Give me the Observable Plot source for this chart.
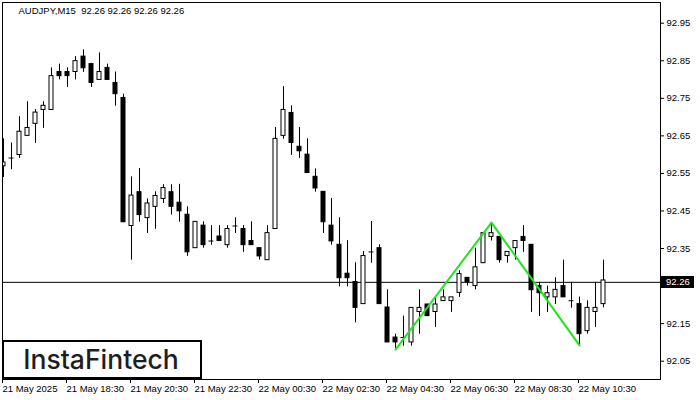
<!DOCTYPE html>
<html><head><meta charset="utf-8">
<script src="https://cdn.jsdelivr.net/npm/d3@7"></script>
<script src="https://cdn.jsdelivr.net/npm/@observablehq/plot@0.6"></script>
<style>body{margin:0;background:#fff} svg{display:block}</style>
</head><body><div id="chart"></div>
<script>
const opens  = [92.569,92.591,92.599,92.650,92.682,92.719,92.719,92.820,92.820,92.820,92.861,92.841,92.799,92.831,92.791,92.751,92.410,92.500,92.431,92.461,92.482,92.500,92.472,92.440,92.351,92.411,92.370,92.382,92.359,92.410,92.402,92.370,92.351,92.319,92.402,92.650,92.711,92.621,92.600,92.541,92.501,92.411,92.360,92.283,92.261,92.202,92.341,92.351,92.193,92.113,92.113,92.100,92.181,92.201,92.181,92.210,92.210,92.232,92.272,92.250,92.311,92.381,92.381,92.330,92.351,92.381,92.360,92.250,92.220,92.220,92.250,92.211,92.202,92.130,92.181,92.202];
const highs  = [92.642,92.631,92.701,92.741,92.720,92.741,92.831,92.841,92.831,92.861,92.879,92.843,92.871,92.841,92.820,92.761,92.541,92.563,92.482,92.501,92.520,92.520,92.521,92.461,92.421,92.421,92.411,92.411,92.411,92.432,92.411,92.421,92.351,92.411,92.672,92.781,92.730,92.672,92.642,92.562,92.501,92.483,92.432,92.371,92.312,92.342,92.422,92.360,92.240,92.122,92.170,92.192,92.240,92.201,92.220,92.240,92.220,92.291,92.272,92.351,92.393,92.418,92.381,92.341,92.370,92.411,92.360,92.260,92.250,92.272,92.319,92.260,92.221,92.211,92.260,92.319];
const lows   = [92.539,92.560,92.590,92.650,92.630,92.670,92.719,92.799,92.779,92.799,92.819,92.779,92.799,92.799,92.729,92.420,92.319,92.420,92.390,92.401,92.470,92.439,92.420,92.329,92.351,92.351,92.359,92.370,92.351,92.390,92.340,92.359,92.319,92.319,92.402,92.641,92.598,92.590,92.551,92.500,92.390,92.359,92.248,92.248,92.152,92.202,92.311,92.202,92.100,92.084,92.090,92.090,92.122,92.170,92.140,92.210,92.180,92.220,92.250,92.240,92.311,92.370,92.311,92.311,92.319,92.340,92.180,92.169,92.180,92.201,92.220,92.191,92.092,92.122,92.140,92.192];
const closes = [92.579,92.591,92.661,92.671,92.712,92.730,92.809,92.809,92.809,92.849,92.830,92.791,92.820,92.799,92.761,92.420,92.491,92.439,92.470,92.490,92.511,92.461,92.449,92.340,92.421,92.359,92.370,92.370,92.402,92.410,92.359,92.359,92.329,92.391,92.642,92.719,92.631,92.609,92.551,92.510,92.420,92.369,92.271,92.271,92.192,92.330,92.341,92.202,92.100,92.100,92.113,92.192,92.192,92.170,92.201,92.220,92.220,92.282,92.261,92.300,92.391,92.391,92.319,92.341,92.370,92.370,92.239,92.231,92.231,92.240,92.220,92.211,92.122,92.192,92.192,92.265];

const xTickIdx = [0, 8, 16, 24, 32, 40, 48, 56, 64, 72];
const xTickLabels = ["21 May 2025","21 May 18:30","21 May 20:30","21 May 22:30","22 May 00:30","22 May 02:30","22 May 04:30","22 May 06:30","22 May 08:30","22 May 10:30"];
const yTicks = [92.05, 92.15, 92.25, 92.35, 92.45, 92.55, 92.65, 92.75, 92.85, 92.95];
const hiddenYTick = 92.25;
const lastPrice = 92.26;
const patternIdx = [49, 61, 72];
const patternPrice = [92.081, 92.419, 92.092];
const titleText = "AUDJPY,M15  92.26 92.26 92.26 92.26";
const logoText = "InstaFintech";

const candles = opens.map((o, i) => ({i, o, h: highs[i], l: lows[i], c: closes[i]}));
const bodies = candles.filter(d => d.o !== d.c);
const dojis = candles.filter(d => d.o === d.c);
const pattern = patternIdx.map((i, k) => ({i, p: patternPrice[k]}));

const font = "'Liberation Sans', Arial, sans-serif";
const plot = Plot.plot({
  width: 700, height: 400,
  marginLeft: 2, marginRight: 40, marginTop: 2, marginBottom: 21,
  style: {fontFamily: font, fontSize: "9.5px", color: "#000", background: "#fff", overflow: "visible"},
  x: {domain: [-0.125, 82.125], axis: null},
  y: {domain: [92.0013, 93.0051], axis: null},
  marks: [
    Plot.ruleY([lastPrice], {stroke: "#000"}),
    Plot.ruleX(candles, {x: "i", y1: "l", y2: "h", stroke: "#000", clip: true}),
    Plot.rect(bodies, {x1: d => d.i - 0.25, x2: d => d.i + 0.25, y1: "o", y2: "c",
      fill: d => d.c > d.o ? "#fff" : "#000", stroke: "#000", clip: true}),
    Plot.ruleY(dojis, {y: "o", x1: d => d.i - 0.3125, x2: d => d.i + 0.3125, stroke: "#000", clip: true}),
    Plot.line(pattern, {x: "i", y: "p", stroke: "#1ee61e", strokeWidth: 2}),
    Plot.frame({stroke: "#000"}),
    Plot.axisX({anchor: "bottom", ticks: xTickIdx, tickFormat: d => xTickLabels[xTickIdx.indexOf(d)],
      tickSize: 4, tickPadding: 2, textAnchor: "start", dx: -1, fill: "#000", label: null}),
    Plot.axisY({anchor: "right", ticks: yTicks, tickFormat: d => d === hiddenYTick ? "" : d.toFixed(2),
      tickSize: 3, tickPadding: 3, fill: "#000", label: null}),
    Plot.text([titleText], {frameAnchor: "top-left", dx: 16, dy: 5, textAnchor: "start", fill: "#000", fontSize: 9.5})
  ]
});

const svg = d3.select(plot);
const yPos = plot.scale("y").apply(lastPrice);
const xRight = 700 - 40 + 1;
svg.append("rect").attr("x", xRight).attr("y", Math.round(yPos) - 6).attr("width", 33).attr("height", 12).attr("fill", "#000");
svg.append("text").attr("x", xRight + 5).attr("y", yPos + 3.5).attr("fill", "#fff").attr("text-anchor", "start")
  .attr("font-family", font).attr("font-size", 9.5).text(lastPrice.toFixed(2));

const logo = svg.append("g");
logo.append("rect").attr("x", 3).attr("y", 341).attr("width", 198).attr("height", 37)
  .attr("fill", "#fff").attr("stroke", "#000").attr("stroke-width", 2);
logo.append("text").attr("x", 101).attr("y", 369).attr("text-anchor", "middle")
  .attr("font-family", "Inter, Roboto, sans-serif").attr("font-weight", 500).attr("font-size", 26.5)
  .attr("fill", "#1e1e1e").text(logoText);

document.getElementById("chart").appendChild(plot);
</script>
</body></html>
